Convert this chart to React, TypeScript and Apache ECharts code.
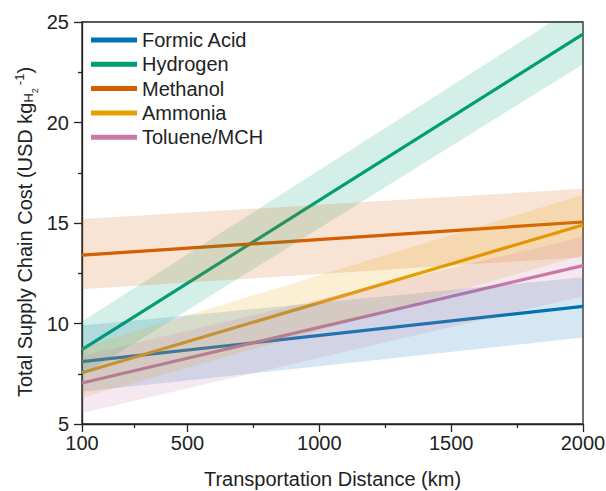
import React, { useEffect, useRef } from "react";
import * as echarts from "echarts";

// Transportation distance (km) at the two ends of each line
const distances = [100, 2000];

const seriesNames = ["Formic Acid", "Hydrogen", "Methanol", "Ammonia", "Toluene/MCH"];
const seriesColors = ["#0072B2", "#009E73", "#D55E00", "#E69F00", "#CC79A7"];

// central estimates (USD/kg H2)
const formicAcid = [8.1, 10.85];
const hydrogen = [8.7, 24.4];
const methanol = [13.4, 15.05];
const ammonia = [7.55, 14.9];
const tolueneMCH = [7.04, 12.88];

// uncertainty band lower / upper bounds
const formicAcidLow = [6.6, 9.3];
const formicAcidHigh = [9.9, 12.3];
const hydrogenLow = [7.4, 22.9];
const hydrogenHigh = [10.1, 26.0];
const methanolLow = [11.7, 13.3];
const methanolHigh = [15.2, 16.7];
const ammoniaLow = [6.3, 13.4];
const ammoniaHigh = [8.8, 16.4];
const tolueneMCHLow = [5.55, 11.35];
const tolueneMCHHigh = [8.4, 14.3];

const xMajorTicks = [100, 500, 1000, 1500, 2000];
const xMinorTicks = [300, 750, 1250, 1750];

const centers = [formicAcid, hydrogen, methanol, ammonia, tolueneMCH];
const lows = [formicAcidLow, hydrogenLow, methanolLow, ammoniaLow, tolueneMCHLow];
const highs = [formicAcidHigh, hydrogenHigh, methanolHigh, ammoniaHigh, tolueneMCHHigh];

const FONT = "'Liberation Sans', Arial, sans-serif";
const INK = "#222";

export default function App() {
  const ref = useRef<HTMLDivElement>(null);
  useEffect(() => {
    if (!ref.current) return;
    const chart = echarts.init(ref.current, null, { renderer: "svg" });

    const lineSeries: any[] = seriesNames.map((name, k) => ({
      name,
      type: "line",
      data: distances.map((d, i) => [d, centers[k][i]]),
      showSymbol: false,
      symbol: "none",
      lineStyle: { color: seriesColors[k], width: 3.2 },
      itemStyle: { color: seriesColors[k] },
      z: 2,
      silent: true,
    }));

    const bandSeries: any[] = seriesNames.map((name, k) => ({
      name: "band-" + name,
      type: "custom",
      clip: true,
      silent: true,
      z: 3,
      data: [[distances[0], lows[k][0]]],
      renderItem: (params: any, api: any) => {
        const upper = distances.map((d, i) => api.coord([d, highs[k][i]]));
        const lower = distances
          .map((d, i) => api.coord([d, lows[k][i]]))
          .reverse();
        return {
          type: "polygon",
          shape: { points: [...upper, ...lower] },
          style: { fill: seriesColors[k], opacity: 0.17 },
        };
      },
    }));

    chart.setOption({
      animation: false,
      textStyle: { fontFamily: FONT },
      grid: {
        left: 82,
        right: 23,
        top: 22,
        bottom: 67,
        outerBoundsMode: "none",
        containLabel: false,
        show: true,
        borderColor: INK,
        borderWidth: 1.3,
        backgroundColor: "transparent",
      },
      legend: {
        orient: "vertical",
        left: 86,
        top: 25,
        itemWidth: 46,
        itemHeight: 5,
        itemGap: 4.3,
        icon: "rect",
        data: seriesNames.map((n) => ({ name: n, icon: "rect" })),
        textStyle: { fontSize: 20, color: INK, fontFamily: FONT },
        selectedMode: false,
      },
      xAxis: [
        {
          type: "value",
          min: 100,
          max: 2000,
          name: "Transportation Distance (km)",
          nameLocation: "middle",
          nameGap: 45,
          nameMoveOverlap: false,
          nameTextStyle: { fontSize: 20, color: INK, fontFamily: FONT },
          axisLine: { show: true, lineStyle: { color: INK, width: 1.3 } },
          axisTick: {
            show: true,
            customValues: xMajorTicks,
            length: 8,
            lineStyle: { color: INK, width: 1.3 },
          },
          axisLabel: {
            customValues: xMajorTicks,
            fontSize: 20,
            color: INK,
            margin: 9,
            fontFamily: FONT,
            formatter: (v: number) => String(v),
          },
          splitLine: { show: false },
        },
        {
          type: "value",
          min: 100,
          max: 2000,
          position: "bottom",
          axisLine: { show: false },
          axisTick: {
            show: true,
            customValues: xMinorTicks,
            length: 4,
            lineStyle: { color: INK, width: 1.3 },
          },
          axisLabel: { show: false },
          splitLine: { show: false },
        },
      ],
      yAxis: {
        type: "value",
        min: 5,
        max: 25,
        interval: 5,
        name: "{a|Total Supply Chain Cost (USD kg}{s|H}{ss|2}{sp|-1}{a|)}",
        nameLocation: "middle",
        nameRotate: 90,
        nameGap: 41,
        nameMoveOverlap: false,
        nameTextStyle: {
          color: INK,
          fontFamily: FONT,
          padding: [0, 18, 0, 0],
          rich: {
            a: { fontSize: 20, lineHeight: 32, verticalAlign: "middle", color: INK, fontFamily: FONT },
            s: { fontSize: 13, lineHeight: 13, verticalAlign: "bottom", padding: [0, 0, 6, 0], color: INK, fontFamily: FONT },
            ss: { fontSize: 9, lineHeight: 9, verticalAlign: "bottom", padding: [0, 0, 2, 0], color: INK, fontFamily: FONT },
            sp: { fontSize: 13, lineHeight: 13, verticalAlign: "top", padding: [4, 0, 0, 3], color: INK, fontFamily: FONT },
          },
        },
        axisLine: { show: true, lineStyle: { color: INK, width: 1.3 } },
        axisTick: { show: true, length: 8, lineStyle: { color: INK, width: 1.3 } },
        minorTick: { show: true, splitNumber: 2, length: 4, lineStyle: { color: INK, width: 1.3 } },
        axisLabel: { fontSize: 20, color: INK, margin: 13, fontFamily: FONT },
        splitLine: { show: false },
        minorSplitLine: { show: false },
      },
      series: [...lineSeries, ...bandSeries],
    });

    return () => chart.dispose();
  }, []);

  return <div ref={ref} style={{ width: 606, height: 491, position: "absolute", left: 0, top: 0 }} />;
}
